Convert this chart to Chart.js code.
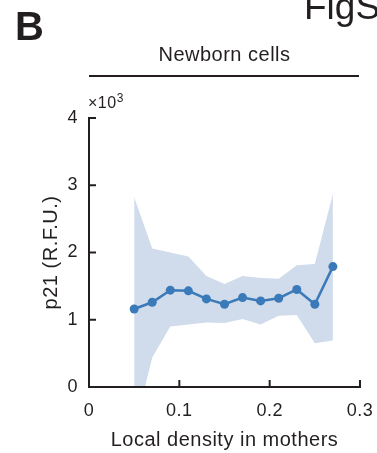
<!DOCTYPE html>
<html>
<head>
<meta charset="utf-8">
<script src="https://cdn.jsdelivr.net/npm/chart.js@4/dist/chart.umd.min.js"></script>
<style>
  html, body { margin: 0; padding: 0; background: #fff; }
  #wrap { position: relative; width: 377px; height: 453px; }
</style>
</head>
<body>
<div id="wrap"><canvas id="c" width="377" height="453"></canvas></div>
<script>
// density bins (x) and p21 values, in units of 10^3
const density = [0.05, 0.07, 0.09, 0.11, 0.13, 0.15, 0.17, 0.19, 0.21, 0.23, 0.25, 0.27];
const p21Mean = [1.16, 1.26, 1.44, 1.43, 1.31, 1.23, 1.33, 1.28, 1.32, 1.45, 1.23, 1.79];
const p21Upper = [2.82, 2.06, 2.00, 1.94, 1.65, 1.53, 1.65, 1.62, 1.61, 1.81, 1.83, 2.87];
const p21Lower = [-0.66, 0.44, 0.90, 0.93, 0.96, 0.95, 1.01, 0.93, 1.06, 1.07, 0.65, 0.69];
const xTicks = [0, 0.1, 0.2, 0.3];
const yTicks = [0, 1, 2, 3, 4];

const FONT = '"Liberation Sans", Arial, Helvetica, sans-serif';
const INK = '#231f20';
const LINE = '#3a7ab8';
const BAND = '#d0dbeb';
const SPACING = '0.5px';

function pts(ys) {
    return density.map((x, i) => ({ x: x, y: ys[i] }));
}

// the figure's text is set slightly wide, so space out canvas letters
const spacingPlugin = {
    id: 'spacing',
    beforeLayout(chart) { chart.ctx.letterSpacing = SPACING; },
    beforeDraw(chart) { chart.ctx.letterSpacing = SPACING; }
};

// inward tick stubs, axis lines and the panel texts
const decorPlugin = {
    id: 'decor',
    afterDraw(chart) {
        const ctx = chart.ctx;
        const xs = chart.scales.x;
        const ys = chart.scales.y;
        const area = chart.chartArea;
        const xEnd = xs.getPixelForValue(0.3);
        ctx.save();
        ctx.strokeStyle = INK;
        ctx.lineWidth = 2;
        ctx.lineCap = 'square';
        ctx.beginPath();
        ctx.moveTo(area.left, area.top);
        ctx.lineTo(area.left, area.bottom);
        ctx.lineTo(xEnd, area.bottom);
        ctx.stroke();
        ctx.lineCap = 'butt';
        xTicks.forEach(v => {
            const px = xs.getPixelForValue(v);
            ctx.beginPath();
            ctx.moveTo(px, area.bottom);
            ctx.lineTo(px, area.bottom - 7);
            ctx.stroke();
        });
        yTicks.forEach(v => {
            const py = ys.getPixelForValue(v);
            ctx.beginPath();
            ctx.moveTo(area.left, py);
            ctx.lineTo(area.left + 7, py);
            ctx.stroke();
        });

        ctx.fillStyle = INK;
        ctx.letterSpacing = '0px';
        // panel letter
        ctx.font = 'bold 40px ' + FONT;
        ctx.textAlign = 'left';
        ctx.textBaseline = 'alphabetic';
        ctx.fillText('B', 15, 40);
        // cut-off figure label
        ctx.font = '37px ' + FONT;
        ctx.fillText('FigS', 304, 19);
        ctx.letterSpacing = SPACING;
        // header and rule
        ctx.font = '20px ' + FONT;
        ctx.textAlign = 'center';
        ctx.textBaseline = 'middle';
        ctx.fillText('Newborn cells', (area.left + xEnd) / 2, 55);
        ctx.beginPath();
        ctx.moveTo(area.left, 76);
        ctx.lineTo(xEnd - 1, 76);
        ctx.stroke();
        // exponent label
        ctx.textAlign = 'left';
        ctx.textBaseline = 'alphabetic';
        ctx.font = '16px ' + FONT;
        ctx.fillText('\u00d710', 88, 108);
        const w = ctx.measureText('\u00d710').width;
        ctx.font = '12px ' + FONT;
        ctx.fillText('3', 88 + w, 102);
        // axis titles
        ctx.font = '20px ' + FONT;
        ctx.textAlign = 'center';
        ctx.textBaseline = 'middle';
        ctx.fillText('Local density in mothers', (area.left + xEnd) / 2, 440);
        ctx.translate(51, (area.top + area.bottom) / 2);
        ctx.rotate(-Math.PI / 2);
        ctx.fillText('p21 (R.F.U.)', 0, 0);
        ctx.restore();
    }
};

const ctx = document.getElementById('c').getContext('2d');
new Chart(ctx, {
    type: 'scatter',
    data: {
        datasets: [
            {
                label: 'mean',
                data: pts(p21Mean),
                showLine: true,
                borderColor: LINE,
                backgroundColor: LINE,
                borderWidth: 2.5,
                pointRadius: 4.5,
                pointBorderWidth: 0,
                fill: false
            },
            {
                label: 'lower',
                data: pts(p21Lower),
                showLine: true,
                borderWidth: 0,
                pointRadius: 0,
                borderColor: 'rgba(0,0,0,0)',
                fill: false
            },
            {
                label: 'upper',
                data: pts(p21Upper),
                showLine: true,
                borderWidth: 0,
                pointRadius: 0,
                borderColor: 'rgba(0,0,0,0)',
                backgroundColor: BAND,
                fill: 1
            }
        ]
    },
    options: {
        responsive: false,
        animation: false,
        layout: { padding: { left: 0, right: 17, top: 118, bottom: 0 } },
        plugins: {
            legend: { display: false },
            tooltip: { enabled: false }
        },
        scales: {
            x: {
                type: 'linear',
                min: 0,
                max: 0.3,
                afterFit(scale) {
                    scale.height = 66;
                    scale.paddingLeft = 0;
                    scale.paddingRight = 0;
                },
                afterBuildTicks(scale) { scale.ticks = xTicks.map(v => ({ value: v })); },
                grid: { display: false, drawTicks: false },
                border: { display: false },
                ticks: {
                    padding: 13,
                    color: INK,
                    font: { family: FONT, size: 18 },
                    callback: v => (v === 0 ? '0' : v.toFixed(1))
                }
            },
            y: {
                type: 'linear',
                min: 0,
                max: 4,
                afterFit(scale) {
                    scale.width = 89;
                    scale.paddingTop = 0;
                    scale.paddingBottom = 0;
                },
                afterBuildTicks(scale) { scale.ticks = yTicks.map(v => ({ value: v })); },
                grid: { display: false, drawTicks: false },
                border: { display: false },
                ticks: {
                    padding: 11,
                    color: INK,
                    font: { family: FONT, size: 18 },
                    callback: v => String(v)
                }
            }
        }
    },
    plugins: [spacingPlugin, decorPlugin]
});
</script>
</body>
</html>
